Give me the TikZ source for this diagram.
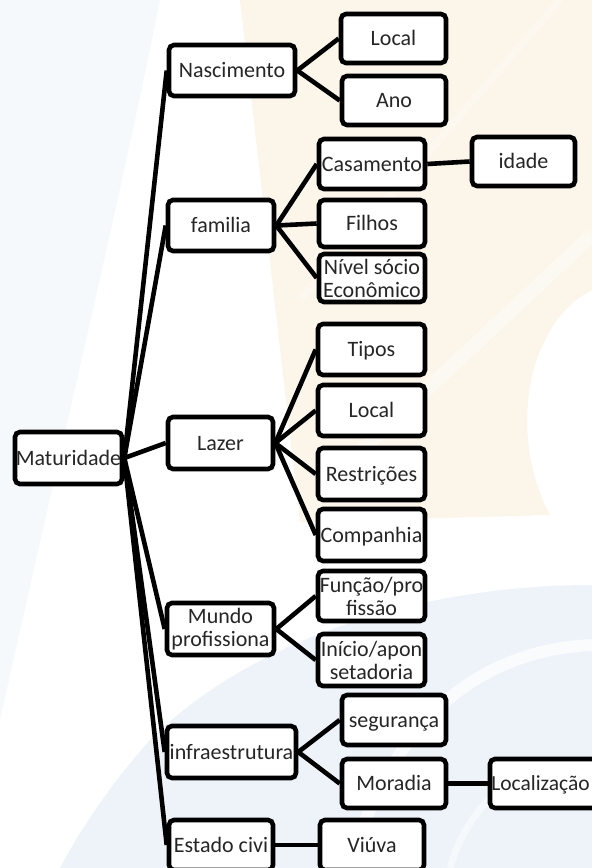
\documentclass[tikz,border=0pt]{standalone}
\usepackage{fontspec}
\setmainfont{Carlito}
\definecolor{sail}{HTML}{FBF5EA}
\definecolor{wave}{HTML}{EDF3F9}
\definecolor{haze}{HTML}{F6F9FB}
\begin{document}
\begin{tikzpicture}[x=1pt,y=-1pt,
  box/.style={draw=black, line width=4.6pt, rounded corners=5pt, fill=white,
    inner sep=0pt, align=center, text=black!85,
    font=\fontsize{22}{23}\selectfont},
  one/.style={text height=14.2pt, text depth=0pt},
  link/.style={line width=4.6pt, draw=black}]
\clip (0,0) rectangle (592,868);
\fill[white] (0,0) rectangle (592,868);

% faint watermark in the background
\fill[haze] (0,0) -- (160,0) .. controls (120,200) and (60,450) .. (0,720) -- cycle;
\fill[sail] (240,0) -- (592,0) -- (592,290)
  .. controls (530,320) and (505,430) .. (550,515) -- (300,522) -- cycle;
\draw[white, line width=14pt, opacity=0.45] (330,480) -- (592,235);
\draw[white, line width=8pt, opacity=0.3] (300,300) -- (560,0);
\fill[wave] (592,585) .. controls (420,585) and (250,640) .. (150,740)
  .. controls (110,785) and (80,830) .. (60,868) -- (592,868) -- cycle;
\draw[white, line width=12pt, opacity=0.7] (592,645) .. controls (480,650) and (390,720) .. (350,868);
\draw[white, line width=7pt, opacity=0.5] (592,760) .. controls (520,760) and (470,800) .. (450,868);

% root
\node[box,one,minimum width=107pt,minimum height=52pt] (mat) at (68.5,458) {Maturidade};

% first level
\node[box,one,minimum width=126pt,minimum height=51pt] (nasc) at (232,70.5) {Nascimento};
\node[box,one,minimum width=106pt,minimum height=51pt] (fam) at (221,225.5) {familia};
\node[box,one,minimum width=105pt,minimum height=52pt] (laz) at (220.5,443) {Lazer};
\node[box,minimum width=107pt,minimum height=52pt] (mun) at (220.5,629) {Mundo\\profissiona};
\node[box,one,minimum width=129pt,minimum height=52pt] (inf) at (231.5,752) {infraestrutura};
\node[box,one,minimum width=104pt,minimum height=50pt] (est) at (221,845) {Estado civi};

% second level
\node[box,one,minimum width=105pt,minimum height=49pt] (loc1) at (393.5,38.5) {Local};
\node[box,one,minimum width=104pt,minimum height=49pt] (ano) at (394,100.5) {Ano};
\node[box,one,minimum width=106pt,minimum height=50pt] (cas) at (372,164) {Casamento};
\node[box,one,minimum width=106pt,minimum height=47pt] (fil) at (372,223.5) {Filhos};
\node[box,minimum width=106pt,minimum height=48pt] (niv) at (372,278) {Nível sócio\\Econômico};
\node[box,one,minimum width=107pt,minimum height=51pt] (tip) at (371.5,349.5) {Tipos};
\node[box,one,minimum width=107pt,minimum height=51pt] (loc2) at (371.5,410.5) {Local};
\node[box,one,minimum width=107pt,minimum height=52pt] (res) at (371.5,474) {Restrições};
\node[box,one,minimum width=107pt,minimum height=52pt] (com) at (371.5,535) {Companhia};
\node[box,minimum width=107pt,minimum height=50pt] (fun) at (371.5,596) {Função/pro\\fissão};
\node[box,minimum width=107pt,minimum height=52pt] (ini) at (371.5,660) {Início/apon\\setadoria};
\node[box,one,minimum width=104pt,minimum height=50pt] (seg) at (394,720) {segurança};
\node[box,one,minimum width=104pt,minimum height=49pt] (mor) at (394,783.5) {Moradia};
\node[box,one,minimum width=104pt,minimum height=50pt] (viu) at (372,845) {Viúva};

% third level
\node[box,one,minimum width=103pt,minimum height=49pt] (ida) at (523.5,161.5) {idade};
\node[box,one,minimum width=108pt,minimum height=49pt] (lzc) at (544,783.5)
  {\makebox[0pt]{\hspace*{-7pt}\fontsize{21.5}{23}\selectfont Localização}};

% connectors
\foreach \c in {nasc,fam,laz,mun,inf,est}
  \draw[link] (mat.east) -- (\c.west);
\draw[link] (nasc.east) -- (loc1.west);
\draw[link] (nasc.east) -- (ano.west);
\foreach \c in {cas,fil,niv}
  \draw[link] (fam.east) -- (\c.west);
\draw[link] (cas.east) -- (ida.west);
\foreach \c in {tip,loc2,res,com}
  \draw[link] (laz.east) -- (\c.west);
\draw[link] (mun.east) -- (fun.west);
\draw[link] (mun.east) -- (ini.west);
\draw[link] (inf.east) -- (seg.west);
\draw[link] (inf.east) -- (mor.west);
\draw[link] (mor.east) -- (lzc.west);
\draw[link] (est.east) -- (viu.west);
\end{tikzpicture}
\end{document}
